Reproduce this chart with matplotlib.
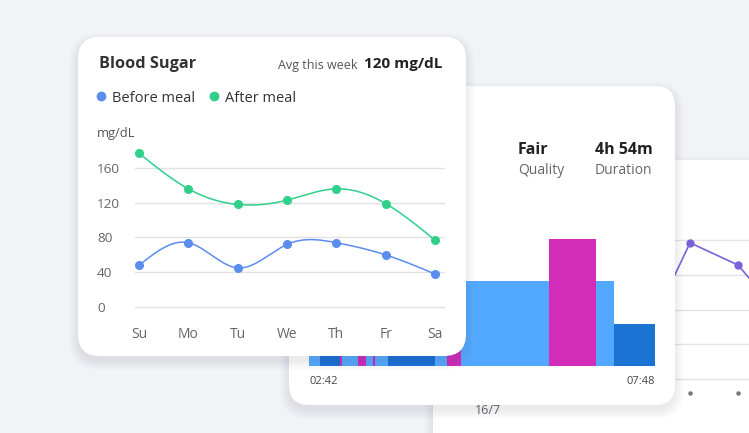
import numpy as np
import matplotlib.pyplot as plt
from matplotlib.patches import FancyBboxPatch
from matplotlib.lines import Line2D

plt.rcParams['font.family'] = ['Open Sans', 'DejaVu Sans']

# blood sugar card
days = ['Su', 'Mo', 'Tu', 'We', 'Th', 'Fr', 'Sa']
before_meal = [48, 74, 45, 72, 74, 60, 38]
after_meal = [177, 136, 118, 123, 136, 119, 77]
sugar_ticks = [0, 40, 80, 120, 160]

# sleep card (minutes per stage, from 02:42 to 07:48)
sleep_stage = ['light', 'deep', 'awake', 'light', 'awake', 'light', 'awake', 'light',
               'deep', 'light', 'awake', 'light', 'awake', 'light', 'deep']
sleep_minutes = [10, 17, 2, 14, 7, 7, 1, 12, 41, 11, 12, 78, 42, 16, 36]
sleep_start, sleep_end = '02:42', '07:48'
stage_level = {'deep': 1, 'light': 2, 'awake': 3}
stage_color = {'deep': '#1b74d4', 'light': '#52a8ff', 'awake': '#d22cb9'}

# third card (mostly hidden)
back_values = [60, 45, 70, 25, 98, 82, 41]

W, H = 749, 433
BG = '#f2f3f7'
BLUE = '#5b8def'
GREEN = '#2fd08a'
PURPLE = '#7b61d9'


def px_rect(x0, y0, x1, y1):
    return [x0 / W, 1 - y1 / H, (x1 - x0) / W, (y1 - y0) / H]


def overlay(z):
    ax = fig.add_axes([0, 0, 1, 1])
    ax.set_xlim(0, W)
    ax.set_ylim(H, 0)
    ax.axis('off')
    ax.patch.set_alpha(0)
    ax.set_zorder(z)
    return ax


def card(ax, x0, y0, x1, y1, r=20):
    for k in range(10):
        ax.add_patch(FancyBboxPatch((x0 - k, y0 - k + 5), x1 - x0 + 2 * k, y1 - y0 + 2 * k,
                                    boxstyle='round,pad=0,rounding_size=%d' % (r + k),
                                    fc='#5a6490', ec='none', alpha=0.012))
    ax.add_patch(FancyBboxPatch((x0, y0), x1 - x0, y1 - y0,
                                boxstyle='round,pad=0,rounding_size=%d' % r,
                                fc='white', ec='none'))


def natural_spline(y, n=40):
    y = np.asarray(y, float)
    m = len(y)
    A = np.zeros((m, m))
    b = np.zeros(m)
    A[0, 0] = A[-1, -1] = 1
    for i in range(1, m - 1):
        A[i, i - 1], A[i, i], A[i, i + 1] = 1, 4, 1
        b[i] = 6 * (y[i - 1] - 2 * y[i] + y[i + 1])
    M = np.linalg.solve(A, b)
    xs, ys = [], []
    for i in range(m - 1):
        t = np.linspace(0, 1, n)
        yy = ((1 - t) * y[i] + t * y[i + 1]
              + ((1 - t) ** 3 - (1 - t)) * M[i] / 6 + (t ** 3 - t) * M[i + 1] / 6)
        xs.append(i + t)
        ys.append(yy)
    return np.concatenate(xs), np.concatenate(ys)


fig = plt.figure(figsize=(W / 100, H / 100), dpi=100)
fig.patch.set_facecolor(BG)

# --- card 3 (back) ---
c3 = overlay(1)
card(c3, 433, 160, 800, 470)
c3.text(488, 410, '16/7', fontsize=9, color='#666', ha='center', va='center')

ax3 = fig.add_axes(px_rect(450, 230, 800, 385))
ax3.set_zorder(2)
ax3.patch.set_alpha(0)
x3 = np.arange(len(back_values))
ax3.plot(x3, back_values, color=PURPLE, lw=1.2, marker='o', ms=5, clip_on=False)
ax3.scatter(x3, [-10] * len(x3), s=5, color='#777', clip_on=False)
ax3.set_xlim(-1, 6.29)
ax3.set_ylim(-4.3, 107.2)
ax3.set_yticks([0, 25, 50, 75, 100])
ax3.yaxis.grid(True, color='#e3e3e8', lw=1)
ax3.set_xticks([])
ax3.tick_params(left=False, labelleft=False)
for s in ax3.spines.values():
    s.set_visible(False)

# --- card 2 (sleep) ---
c2 = overlay(3)
card(c2, 289, 86, 675, 405)
c2.text(518, 150, 'Fair', fontsize=11.5, weight='bold', color='#222', va='center')
c2.text(518, 171, 'Quality', fontsize=10, color='#666', va='center')
c2.text(595, 150, '4h 54m', fontsize=11.5, weight='bold', color='#222', va='center')
c2.text(595, 171, 'Duration', fontsize=10, color='#666', va='center')

ax2 = fig.add_axes(px_rect(309, 239, 655, 366))
ax2.set_zorder(4)
ax2.patch.set_alpha(0)
starts = np.concatenate([[0], np.cumsum(sleep_minutes)[:-1]])
ax2.bar(starts, [stage_level[s] for s in sleep_stage], width=sleep_minutes, align='edge',
        color=[stage_color[s] for s in sleep_stage], lw=0)
total = sum(sleep_minutes)
ax2.set_xlim(0, total)
ax2.set_ylim(0, 3)
ax2.set_yticks([])
ax2.set_xticks([0, total])
ax2.set_xticklabels([sleep_start, sleep_end], fontsize=8, color='#444')
ax2.get_xticklabels()[0].set_ha('left')
ax2.get_xticklabels()[1].set_ha('right')
ax2.tick_params(bottom=False, pad=4)
for s in ax2.spines.values():
    s.set_visible(False)

# --- card 1 (blood sugar) ---
c1 = overlay(5)
card(c1, 78, 37, 466, 356, r=22)
c1.text(99, 64, 'Blood Sugar', fontsize=11.7, weight='bold', color='#333', va='center')
c1.text(442, 64, '120 mg/dL', fontsize=11, weight='bold', color='#222', va='center', ha='right')
c1.text(358, 65, 'Avg this week', fontsize=9, color='#555', va='center', ha='right')
c1.text(97, 134, 'mg/dL', fontsize=9.3, color='#555', va='center')

ax1 = fig.add_axes(px_rect(135, 140, 445, 315))
ax1.set_zorder(6)
ax1.patch.set_alpha(0)
x1 = np.arange(len(days))
for vals, col in [(before_meal, BLUE), (after_meal, GREEN)]:
    sx, sy = natural_spline(vals)
    ax1.plot(sx, sy, color=col, lw=1.1, clip_on=False)
    ax1.plot(x1, vals, 'o', color=col, ms=5.5, clip_on=False)
ax1.set_xlim(-0.081, 6.203)
ax1.set_ylim(-9.2, 192.2)
ax1.set_yticks(sugar_ticks)
ax1.yaxis.grid(True, color='#e2e2e6', lw=1)
ax1.set_axisbelow(True)
ax1.set_xticks(x1)
ax1.set_xticklabels(days)
ax1.tick_params(axis='y', length=0, pad=27.4, labelsize=9.7, labelcolor='#666')
ax1.tick_params(axis='x', length=0, pad=9, labelsize=10, labelcolor='#666')
for lab in ax1.get_yticklabels():
    lab.set_ha('left')
for s in ax1.spines.values():
    s.set_visible(False)

handles = [Line2D([], [], marker='o', ls='', color=BLUE, ms=6),
           Line2D([], [], marker='o', ls='', color=GREEN, ms=6)]
ax1.legend(handles, ['Before meal', 'After meal'], loc='center left',
           bbox_to_anchor=(97 / W, 1 - 98 / H), bbox_transform=fig.transFigure,
           ncol=2, frameon=False, fontsize=10.5, borderpad=0, borderaxespad=0,
           handlelength=0.6, handletextpad=0.45, columnspacing=1.0, labelcolor='#333')

fig.savefig('out.png', dpi=100, facecolor=BG)
